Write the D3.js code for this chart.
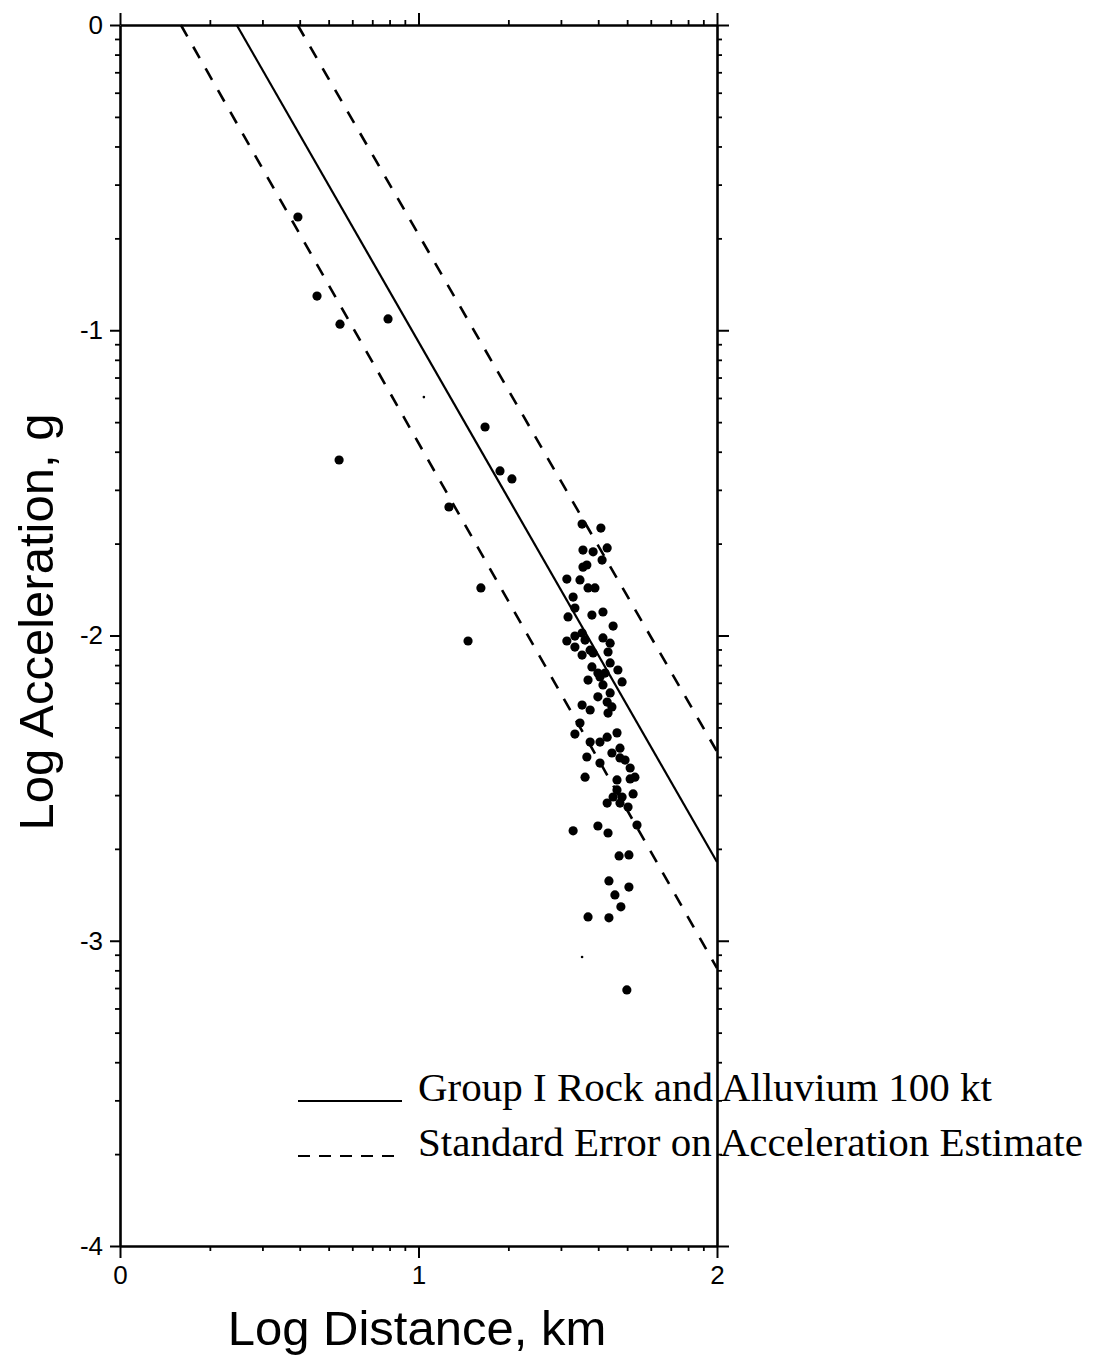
<!DOCTYPE html>
<html>
<head>
<meta charset="utf-8">
<script src="https://cdn.jsdelivr.net/npm/d3@7"></script>
<style>
  body { margin: 0; background: #fff; }
  svg { display: block; }
</style>
</head>
<body>
<svg id="chart" width="1103" height="1359"></svg>
<script>
// Axis labels
const xTicks = [0, 1, 2];
const yTicks = [0, -1, -2, -3, -4];
const xTitle = "Log Distance, km";
const yTitle = "Log Acceleration, g";

// Observed stations: [log distance (km), log acceleration (g)]
const stations = [
  [0.596, -0.629], [0.660, -0.888], [0.737, -0.980], [0.898, -0.963],
  [0.734, -1.425], [1.223, -1.317], [1.273, -1.461], [1.313, -1.487],
  [1.102, -1.579], [1.209, -1.844], [1.166, -2.018],
  [1.548, -1.635], [1.611, -1.648], [1.551, -1.720], [1.585, -1.726],
  [1.632, -1.713], [1.615, -1.753], [1.551, -1.776], [1.564, -1.769],
  [1.541, -1.818], [1.497, -1.815], [1.568, -1.844], [1.591, -1.844],
  [1.518, -1.874], [1.524, -1.910], [1.501, -1.939], [1.581, -1.933],
  [1.618, -1.923], [1.652, -1.969], [1.497, -2.018], [1.524, -2.002],
  [1.548, -1.992], [1.558, -2.015], [1.524, -2.038], [1.618, -2.008],
  [1.642, -2.025], [1.635, -2.054], [1.548, -2.064], [1.575, -2.048],
  [1.585, -2.057], [1.581, -2.103], [1.601, -2.123], [1.642, -2.090],
  [1.668, -2.113], [1.625, -2.123], [1.568, -2.146], [1.608, -2.136],
  [1.618, -2.162], [1.682, -2.152], [1.642, -2.188], [1.601, -2.201],
  [1.632, -2.218], [1.648, -2.234], [1.635, -2.254], [1.548, -2.228],
  [1.575, -2.244], [1.541, -2.287], [1.524, -2.323], [1.575, -2.349],
  [1.608, -2.349], [1.632, -2.333], [1.665, -2.319], [1.648, -2.385],
  [1.675, -2.369], [1.675, -2.401], [1.692, -2.408], [1.709, -2.434],
  [1.564, -2.398], [1.608, -2.418], [1.558, -2.464], [1.665, -2.473],
  [1.709, -2.470], [1.725, -2.464], [1.665, -2.506], [1.652, -2.529],
  [1.682, -2.529], [1.719, -2.519], [1.632, -2.549], [1.675, -2.549],
  [1.702, -2.562], [1.732, -2.621], [1.518, -2.640], [1.601, -2.624],
  [1.635, -2.647], [1.672, -2.722], [1.705, -2.719], [1.638, -2.804],
  [1.705, -2.824], [1.658, -2.850], [1.678, -2.889], [1.568, -2.922],
  [1.638, -2.925], [1.698, -3.161]
];

// Two very small marks
const faintMarks = [[1.018, -1.219], [1.548, -3.053]];

// Regression line and standard-error bounds (end points)
const fitLine = [[0.391, 0], [2, -2.742]];
const upperBound = [[0.595, 0], [2, -2.380]];
const lowerBound = [[0.204, 0], [2, -3.090]];

const legendLabels = [
  "Group I Rock and Alluvium 100 kt",
  "Standard Error on Acceleration Estimate"
];

const svg = d3.select("#chart");
const plot = { left: 120, right: 717, top: 25, bottom: 1246 };

const x = d3.scaleLinear().domain([0, 2]).range([plot.left, plot.right]);
const y = d3.scaleLinear().domain([0, -4]).range([plot.top, plot.bottom]);

// Log-cycle minor ticks inside each decade
const minorX = d3.range(0, 2).flatMap(d => d3.range(2, 10).map(k => d + Math.log10(k)));
const minorY = d3.range(-4, 0).flatMap(d => d3.range(2, 10).map(k => d + Math.log10(k)));

const sans = "'Liberation Sans', Arial, Helvetica, sans-serif";
const serif = "'Liberation Serif', 'Times New Roman', serif";
const plainNumber = d => String(d);   // ASCII hyphen for negatives

function styleAxis(g) {
  g.select(".domain").attr("stroke", "#000").attr("stroke-width", 2.6);
  g.selectAll(".tick line").attr("stroke", "#000").attr("stroke-width", 2);
  g.selectAll(".tick text")
    .attr("fill", "#000")
    .style("font-family", sans)
    .style("font-size", "26px");
}

function minorAxis(axisFn, scale, values, size, transform) {
  svg.append("g")
    .attr("transform", transform)
    .call(axisFn(scale).tickValues(values).tickSize(size).tickSizeOuter(0).tickFormat(""))
    .call(g => { g.select(".domain").remove(); g.selectAll(".tick line").attr("stroke", "#000").attr("stroke-width", 1.8); });
}

// Minor ticks on all four sides
minorAxis(d3.axisLeft, y, minorY, 5, `translate(${plot.left},0)`);
minorAxis(d3.axisRight, y, minorY, 5, `translate(${plot.right},0)`);
minorAxis(d3.axisTop, x, minorX, 5, `translate(0,${plot.top})`);
minorAxis(d3.axisBottom, x, minorX, 5, `translate(0,${plot.bottom})`);

// Major axes
svg.append("g")
  .attr("transform", `translate(${plot.left},0)`)
  .call(d3.axisLeft(y).tickValues(yTicks).tickSize(10).tickSizeOuter(0).tickPadding(7).tickFormat(plainNumber))
  .call(styleAxis);

svg.append("g")
  .attr("transform", `translate(${plot.right},0)`)
  .call(d3.axisRight(y).tickValues(yTicks).tickSize(12).tickSizeOuter(0).tickFormat(""))
  .call(styleAxis);

svg.append("g")
  .attr("transform", `translate(0,${plot.bottom})`)
  .call(d3.axisBottom(x).tickValues(xTicks).tickSize(12).tickSizeOuter(0).tickPadding(8).tickFormat(plainNumber))
  .call(styleAxis);

svg.append("g")
  .attr("transform", `translate(0,${plot.top})`)
  .call(d3.axisTop(x).tickValues(xTicks).tickSize(12).tickSizeOuter(0).tickFormat(""))
  .call(styleAxis);

// Axis titles
svg.append("text")
  .attr("x", 417).attr("y", 1345)
  .attr("text-anchor", "middle")
  .style("font-family", sans).style("font-size", "49px")
  .text(xTitle);

svg.append("text")
  .attr("transform", "translate(53,622) rotate(-90)")
  .attr("text-anchor", "middle")
  .style("font-family", sans).style("font-size", "49px")
  .text(yTitle);

// Fitted attenuation line and bounds
const line = d3.line().x(d => x(d[0])).y(d => y(d[1]));

svg.append("path").datum(fitLine)
  .attr("d", line).attr("fill", "none")
  .attr("stroke", "#000").attr("stroke-width", 2.2);

[upperBound, lowerBound].forEach(b => {
  svg.append("path").datum(b)
    .attr("d", line).attr("fill", "none")
    .attr("stroke", "#000").attr("stroke-width", 2.6)
    .attr("stroke-dasharray", "13,12");
});

// Stations
svg.append("g").selectAll("circle").data(stations).join("circle")
  .attr("cx", d => x(d[0])).attr("cy", d => y(d[1]))
  .attr("r", 4.6).attr("fill", "#000");

svg.append("g").selectAll("circle").data(faintMarks).join("circle")
  .attr("cx", d => x(d[0])).attr("cy", d => y(d[1]))
  .attr("r", 1.3).attr("fill", "#000");

// Legend
const legend = svg.append("g");
const legendRows = [
  { label: legendLabels[0], dash: null, y: 1101 },
  { label: legendLabels[1], dash: "12,9", y: 1156 }
];
legendRows.forEach(r => {
  legend.append("line")
    .attr("x1", 298).attr("x2", 402).attr("y1", r.y).attr("y2", r.y)
    .attr("stroke", "#000").attr("stroke-width", 2)
    .attr("stroke-dasharray", r.dash);
  legend.append("text")
    .attr("x", 418).attr("y", r.y)
    .style("font-family", serif).style("font-size", "41px")
    .text(r.label);
});
</script>
</body>
</html>
